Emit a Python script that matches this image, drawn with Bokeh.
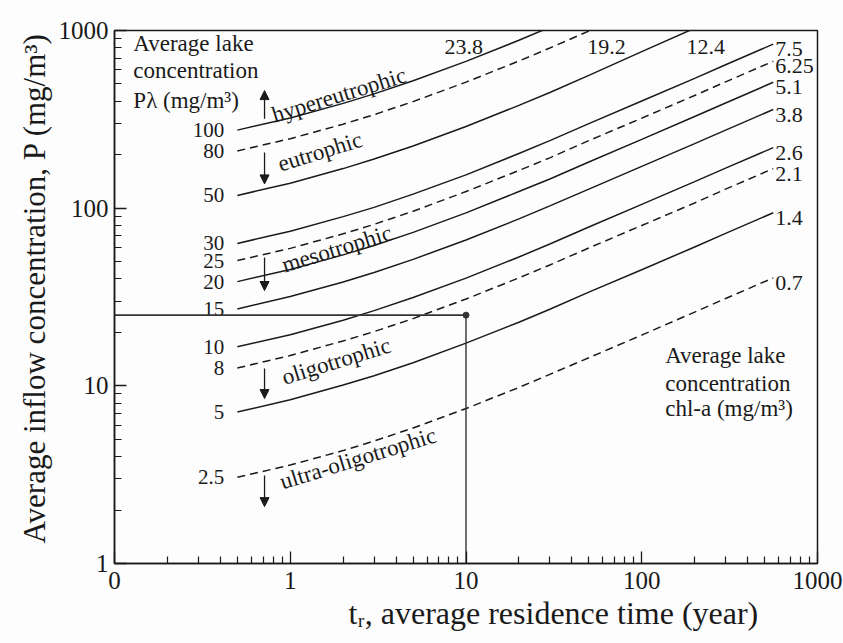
from bokeh.plotting import figure
from bokeh.models import (FixedTicker, CustomJSTickFormatter, Label, Arrow,
                          NormalHead, ColumnDataSource, Title)
from bokeh.core.properties import value
from bokeh.embed import file_html
from bokeh.resources import INLINE

FONT = "Liberation Serif"
INK = "#1a1a1a"

# Average residence time samples (years)
t_r = [0.5, 1, 2, 3, 5, 10, 20, 30, 50, 100, 200, 300, 560]

# Average lake concentration of each curve (mg/m3) and its chl-a (mg/m3)
p_lake = ["100", "80", "50", "30", "25", "20", "15", "10", "8", "5", "2.5"]
chl_a = ["23.8", "19.2", "12.4", "7.5", "6.25", "5.1", "3.8", "2.6", "2.1", "1.4", "0.7"]
dashed = [False, True, False, False, True, False, False, False, True, False, True]

# Average inflow concentration P (mg/m3) along each curve
p_in_100 = [275, 322, 389, 440, 521, 670, 881, 1043]
p_in_80 = [210, 246, 297, 336, 398, 512, 673, 797, 993, 1328]
p_in_50 = [118, 138, 167, 189, 224, 288, 379, 448, 559, 760, 1030]
p_in_30 = [63.3, 74.2, 89.6, 101, 120, 154, 203, 240, 299, 401, 538, 642, 838]
p_in_25 = [50.7, 59.4, 71.7, 81.1, 96.1, 124, 163, 192, 240, 321, 431, 514, 671]
p_in_20 = [38.6, 45.2, 54.6, 61.7, 73.1, 94.1, 124, 146, 182, 244, 328, 391, 511]
p_in_15 = [27.1, 31.8, 38.4, 43.4, 51.5, 66.2, 87.0, 103, 128, 172, 231, 275, 359]
p_in_10 = [16.6, 19.4, 23.4, 26.5, 31.4, 40.4, 53.1, 62.9, 78.4, 105, 141, 168, 219]
p_in_8 = [12.6, 14.8, 17.9, 20.2, 23.9, 30.8, 40.5, 47.9, 59.7, 79.9, 107, 128, 167]
p_in_5 = [7.12, 8.34, 10.1, 11.4, 13.5, 17.4, 22.8, 27.0, 33.7, 45.0, 60.5, 72.1, 94.2]
p_in_2_5 = [3.06, 3.58, 4.32, 4.89, 5.79, 7.45, 9.79, 11.6, 14.4, 19.3, 26.0, 31.0, 40.5]

curves = [p_in_100, p_in_80, p_in_50, p_in_30, p_in_25, p_in_20,
          p_in_15, p_in_10, p_in_8, p_in_5, p_in_2_5]

# Worked example: 10 years residence time, 25 mg/m3 inflow
example_t = 10
example_p = 25

x_major = [0.1, 1, 10, 100, 1000]
y_major = [1, 10, 100, 1000]
x_minor = [m * d for d in (0.1, 1, 10, 100) for m in range(2, 10)]
y_minor = [m * d for d in (1, 10, 100) for m in range(2, 10)]

p = figure(width=843, height=643, x_axis_type="log", y_axis_type="log",
           x_range=(0.1, 1000), y_range=(1, 1000),
           output_backend="svg", toolbar_location=None,
           min_border_left=114, min_border_right=26,
           min_border_top=30, min_border_bottom=80,
           background_fill_color="#fdfdfd", border_fill_color="#fdfdfd")
p.grid.visible = False
p.outline_line_color = INK
p.outline_line_width = 1.5

p.xaxis.ticker = FixedTicker(ticks=x_major, minor_ticks=x_minor)
p.yaxis.ticker = FixedTicker(ticks=y_major, minor_ticks=y_minor)
p.xaxis.formatter = CustomJSTickFormatter(code="return tick < 1 ? '0' : tick.toFixed(0);")
p.yaxis.formatter = CustomJSTickFormatter(code="return tick.toFixed(0);")

for ax in (p.xaxis[0], p.yaxis[0]):
    ax.axis_line_color = INK
    ax.axis_line_width = 1.5
    ax.major_tick_in = 12
    ax.major_tick_out = 0
    ax.minor_tick_in = 7
    ax.minor_tick_out = 0
    ax.major_tick_line_color = INK
    ax.minor_tick_line_color = INK
    ax.major_tick_line_width = 1.3
    ax.minor_tick_line_width = 1.2
    ax.major_label_text_font = FONT
    ax.major_label_text_font_size = "25px"
    ax.major_label_text_color = INK
p.xaxis.major_label_standoff = 8
p.yaxis.major_label_standoff = 6

# Axis titles
p.add_layout(Title(text="tᵣ, average residence time (year)", align="left",
                   offset=234, standoff=2, text_font=FONT, text_font_size="32px",
                   text_font_style="normal", text_color=INK), "below")
p.add_layout(Title(text="Average inflow concentration, P (mg/m³)", align="left",
                   offset=20, standoff=8, text_font=FONT, text_font_size="31px",
                   text_font_style="normal", text_color=INK), "left")

# Curves of constant lake concentration
for vals, is_dashed in zip(curves, dashed):
    xs = t_r[:len(vals)]
    p.line(xs, vals, line_color=INK, line_width=1.5,
           line_dash="8 5" if is_dashed else "solid")

# Lake concentration labels at the start of each curve
src_left = ColumnDataSource(dict(x=[t_r[0]] * len(curves),
                                 y=[c[0] for c in curves], text=p_lake))
p.text(x="x", y="y", text="text", source=src_left, x_offset=-13,
       text_align="right", text_baseline="middle",
       text_font=value(FONT), text_font_size="21px", text_color=INK)

# chl-a labels at the right end of the lower curves
low = [i for i, c in enumerate(curves) if len(c) == len(t_r)]
src_right = ColumnDataSource(dict(x=[t_r[-1]] * len(low),
                                  y=[curves[i][-1] for i in low],
                                  text=[chl_a[i] for i in low]))
p.text(x="x", y="y", text="text", source=src_right, x_offset=2, y_offset=5,
       text_align="left", text_baseline="middle",
       text_font=value(FONT), text_font_size="22px", text_color=INK)

# chl-a labels of the curves leaving through the top edge
top_label_t = [9.7, 63, 231]
top_label_p = [812, 812, 812]
p.text(x=top_label_t, y=top_label_p, text=chl_a[:3],
       text_align="center", text_baseline="middle",
       text_font=value(FONT), text_font_size="22px", text_color=INK)

# Worked example guide lines
p.line([0.1, example_t], [example_p, example_p], line_color="#333333", line_width=1.6)
p.line([example_t, example_t], [1, example_p], line_color="#333333", line_width=1.4)
p.scatter([example_t], [example_p], size=6, color="#333333")

# Trophic state names along the boundary curves
region_names = ["hypereutrophic", "eutrophic", "mesotrophic", "oligotrophic",
                "ultra-oligotrophic"]
region_t = [0.792, 0.857, 0.904, 0.904, 0.88]
region_p = [332, 176, 47.5, 11.1, 2.86]
for name, tx, py in zip(region_names, region_t, region_p):
    p.add_layout(Label(x=tx, y=py, text=name, angle=0.30, angle_units="rad",
                       text_align="left", text_baseline="alphabetic",
                       text_font=FONT, text_font_size="23px", text_color=INK))

# Arrows pointing into each trophic band
arrow_t = 0.714
arrow_spans = [(319, 459), (206, 137), (52.7, 34.4), (12.5, 8.48), (3.13, 2.09)]
for y0, y1 in arrow_spans:
    p.add_layout(Arrow(x_start=arrow_t, y_start=y0, x_end=arrow_t, y_end=y1,
                       line_color=INK, line_width=1.3,
                       end=NormalHead(size=9, fill_color=INK, line_color=INK)))

# Corner captions
for txt, py in zip(["Average lake", "concentration", "Pλ (mg/m³)"], [844, 595, 403]):
    p.add_layout(Label(x=0.128, y=py, text=txt, text_align="left",
                       text_baseline="middle", text_font=FONT,
                       text_font_size="23px", text_color=INK))
for txt, py in zip(["Average lake", "concentration", "chl-a (mg/m³)"], [14.8, 10.3, 7.45]):
    p.add_layout(Label(x=136, y=py, text=txt, text_align="left",
                       text_baseline="middle", text_font=FONT,
                       text_font_size="23px", text_color=INK))

open("out.html", "w").write(file_html(p, INLINE))
